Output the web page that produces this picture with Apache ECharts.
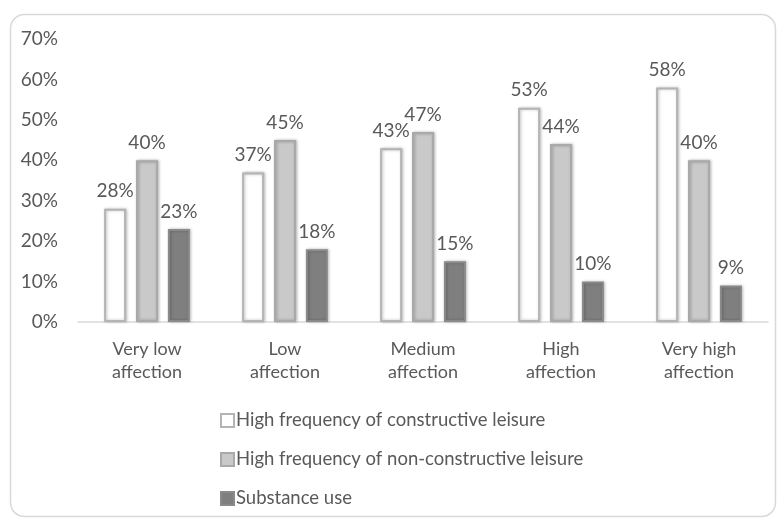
<!DOCTYPE html>
<html>
<head>
<meta charset="utf-8">
<script src="https://cdn.jsdelivr.net/npm/echarts@6/dist/echarts.min.js"></script>
<style>html,body{margin:0;padding:0;background:#fff;}#c{width:781px;height:518px;}</style>
</head>
<body>
<div id="c"></div>
<script>
const categories = ['Very low\naffection', 'Low\naffection', 'Medium\naffection', 'High\naffection', 'Very high\naffection'];
const seriesNames = ['High frequency of constructive leisure', 'High frequency of non-constructive leisure', 'Substance use'];
const constructive = [28, 37, 43, 53, 58];
const nonConstructive = [40, 45, 47, 44, 40];
const substance = [23, 18, 15, 10, 9];
const yTicks = [0, 10, 20, 30, 40, 50, 60, 70];

const FONT = 'Lato';
const TXT = '#595959';
const fills = ['#ffffff', '#c9c9c9', '#7f7f7f'];
const borders = ['#b4b4b4', '#a9a9a9', '#8a8a8a'];
const dataSets = [constructive, nonConstructive, substance];

const chart = echarts.init(document.getElementById('c'), null, {renderer: 'canvas'});
chart.setOption({
  animation: false,
  backgroundColor: '#ffffff',
  graphic: [{
    type: 'rect', silent: true, z: -10,
    shape: {x: 10.5, y: 14.5, width: 765, height: 502, r: 14},
    style: {fill: '#ffffff', stroke: '#d9d9d9', lineWidth: 1.5}
  }],
  grid: {left: 78, right: 13, top: 39, bottom: 196, containLabel: false},
  xAxis: {
    type: 'category', data: categories,
    axisLine: {lineStyle: {color: '#d9d9d9', width: 1.5}},
    axisTick: {show: false},
    axisLabel: {color: TXT, fontFamily: FONT, fontSize: 18, lineHeight: 23, margin: 16, interval: 0}
  },
  yAxis: {
    type: 'value', min: yTicks[0], max: yTicks[yTicks.length - 1], interval: 10,
    splitLine: {show: false}, axisLine: {show: false}, axisTick: {show: false},
    axisLabel: {color: TXT, fontFamily: FONT, fontSize: 19, margin: 20, formatter: v => v + '%'}
  },
  legend: {
    orient: 'vertical', left: 215, top: 406,
    itemWidth: 13, itemHeight: 13, itemGap: 20,
    icon: 'rect',
    textStyle: {color: TXT, fontFamily: FONT, fontSize: 18.5, padding: [0, 0, 0, -3]},
    data: seriesNames
  },
  series: dataSets.map((d, i) => ({
    name: seriesNames[i], type: 'bar', data: d,
    barWidth: 22, barGap: '45%',
    itemStyle: {color: fills[i], borderColor: borders[i], borderWidth: 2,
      shadowBlur: 3, shadowColor: 'rgba(0,0,0,0.25)', shadowOffsetX: 1, shadowOffsetY: 0},
    label: {show: true, position: 'top', distance: 8, color: TXT, fontFamily: FONT, fontSize: 19,
      formatter: p => p.value + '%'}
  }))
});
</script>
</body>
</html>
